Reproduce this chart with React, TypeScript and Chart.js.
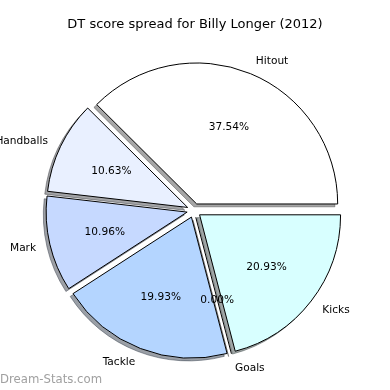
import React, { useEffect, useRef } from 'react';
import Chart from 'chart.js/auto';

const TITLE = 'DT score spread for Billy Longer (2012)';
const WATERMARK = 'Dream-Stats.com';
// matplotlib order (counter-clockwise from east)
const categories = ['Hitout', 'Handballs', 'Mark', 'Tackle', 'Goals', 'Kicks'];
const percentages = [37.54, 10.63, 10.96, 19.93, 0.0, 20.93];
const sliceColors = ['#FFFFFF', '#E9F0FF', '#C6D9FF', '#B4D5FF', '#FFFFFF', '#D8FFFF'];

const FONT = '"DejaVu Sans", "Liberation Sans", sans-serif';

function hexToRgb(h: string): [number, number, number] {
  const v = h.replace('#', '');
  return [parseInt(v.slice(0, 2), 16), parseInt(v.slice(2, 4), 16), parseInt(v.slice(4, 6), 16)];
}

const mplPie = {
  id: 'mplPie',
  beforeDatasetsDraw(chart: any) {
    const ctx = chart.ctx as CanvasRenderingContext2D;
    const meta = chart.getDatasetMeta(0);
    const arcs = meta.data as any[];
    const bgs = chart.data.datasets[0].backgroundColor as string[];
    const geo = arcs.map((el) => {
      const p = el.getProps(['x', 'y', 'startAngle', 'endAngle', 'outerRadius'], true);
      const mid = (p.startAngle + p.endAngle) / 2;
      const ex = Math.cos(mid) * 0.05 * p.outerRadius;
      const ey = Math.sin(mid) * 0.05 * p.outerRadius;
      return { ...p, mid, ex, ey };
    });
    // shadows
    geo.forEach((g, i) => {
      const [r, gg, b] = hexToRgb(bgs[i]);
      const sc = `rgba(${Math.round(r * 0.3)},${Math.round(gg * 0.3)},${Math.round(b * 0.3)},0.5)`;
      const so = 0.02 * g.outerRadius;
      ctx.save();
      ctx.translate(g.ex - so, g.ey + so);
      ctx.beginPath();
      ctx.moveTo(g.x, g.y);
      ctx.arc(g.x, g.y, g.outerRadius, g.startAngle, g.endAngle);
      ctx.closePath();
      ctx.fillStyle = sc;
      ctx.fill();
      ctx.strokeStyle = sc;
      ctx.lineWidth = 1;
      ctx.lineJoin = 'miter';
      ctx.stroke();
      ctx.restore();
    });
    // slices
    geo.forEach((g, i) => {
      ctx.save();
      ctx.translate(g.ex, g.ey);
      if (g.endAngle - g.startAngle > 1e-6) {
        arcs[i].draw(ctx);
      } else {
        ctx.beginPath();
        ctx.moveTo(g.x, g.y);
        ctx.lineTo(g.x + Math.cos(g.startAngle) * g.outerRadius, g.y + Math.sin(g.startAngle) * g.outerRadius);
        ctx.strokeStyle = '#000';
        ctx.lineWidth = 1;
        ctx.stroke();
      }
      ctx.restore();
    });
    return false;
  },
  afterDraw(chart: any) {
    const ctx = chart.ctx as CanvasRenderingContext2D;
    const meta = chart.getDatasetMeta(0);
    const arcs = meta.data as any[];
    const labels = chart.data.labels as string[];
    const vals = chart.data.datasets[0].data as number[];
    ctx.save();
    ctx.fillStyle = '#000';
    ctx.textBaseline = 'middle';
    ctx.font = `10.6px ${FONT}`;
    arcs.forEach((el, i) => {
      const p = el.getProps(['x', 'y', 'startAngle', 'endAngle', 'outerRadius'], true);
      const mid = (p.startAngle + p.endAngle) / 2;
      const c = Math.cos(mid);
      const s = Math.sin(mid);
      const cx = p.x + c * 0.05 * p.outerRadius;
      const cy = p.y + s * 0.05 * p.outerRadius + 1;
      ctx.textAlign = c > 0 ? 'left' : 'right';
      ctx.fillText(labels[i], cx + c * 1.1 * p.outerRadius, cy + s * 1.1 * p.outerRadius);
      ctx.textAlign = 'center';
      ctx.fillText(vals[i].toFixed(2) + '%', cx + c * 0.6 * p.outerRadius, cy + s * 0.6 * p.outerRadius);
    });
    ctx.font = `13px ${FONT}`;
    ctx.textAlign = 'center';
    ctx.fillText(TITLE, 195, 25);
    ctx.font = `11.7px ${FONT}`;
    ctx.fillStyle = '#a0a0a0';
    ctx.textAlign = 'left';
    ctx.fillText(WATERMARK, 0, 380);
    ctx.restore();
  },
};

export default function App() {
  const ref = useRef<HTMLCanvasElement | null>(null);
  useEffect(() => {
    if (!ref.current) return;
    // Chart.js draws clockwise; reverse to mimic matplotlib's counter-clockwise order
    const order = categories.map((_, i) => categories.length - 1 - i);
    const chart = new Chart(ref.current, {
      type: 'pie',
      data: {
        labels: order.map((i) => categories[i]),
        datasets: [
          {
            data: order.map((i) => percentages[i]),
            backgroundColor: order.map((i) => sliceColors[i]),
            borderColor: '#000000',
            borderWidth: 1,
            borderJoinStyle: 'miter',
          } as any,
        ],
      },
      options: {
        responsive: false,
        animation: false,
        rotation: 90,
        radius: 141,
        layout: { padding: { left: 0, right: 2, top: 31, bottom: 0 } },
        plugins: { legend: { display: false }, tooltip: { enabled: false }, title: { display: false } },
        events: [],
      } as any,
      plugins: [mplPie as any],
    });
    return () => chart.destroy();
  }, []);
  return (
    <div style={{ position: 'absolute', left: 0, top: 0, width: 390, height: 390, background: '#fff' }}>
      <canvas ref={ref} width={390} height={390} style={{ width: 390, height: 390, display: 'block' }} />
    </div>
  );
}
